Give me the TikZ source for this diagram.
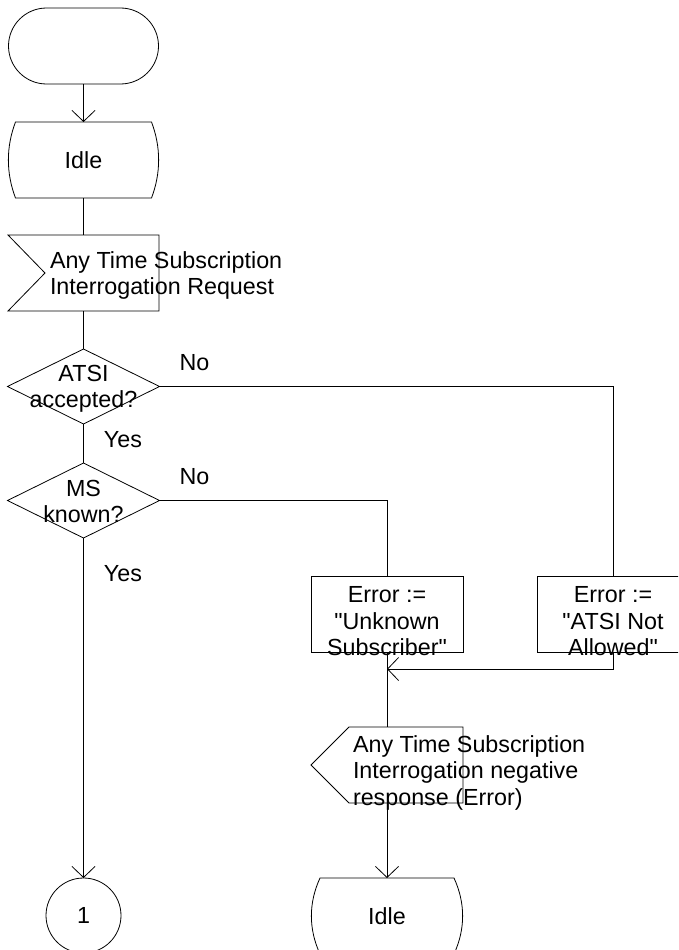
\documentclass[tikz,border=0pt]{standalone}
\usepackage{fontspec}
\setmainfont{Liberation Sans}[Ligatures=TeXOff]
\usetikzlibrary{arrows.meta}
\newcommand{\drawstatebox}[2]{%
  \draw ([xshift=#2]#1.north west) -- ([xshift=-#2]#1.north east)
    .. controls ([xshift=2.5pt,yshift=-25pt]#1.north east) and ([xshift=2.5pt,yshift=25pt]#1.south east) .. ([xshift=-#2]#1.south east)
    -- ([xshift=#2]#1.south west)
    .. controls ([xshift=-2.5pt,yshift=25pt]#1.south west) and ([xshift=-2.5pt,yshift=-25pt]#1.north west) .. cycle;}
\begin{document}
\begin{tikzpicture}[x=1pt,y=-1pt,line width=0.8pt,
  every node/.style={inner sep=0pt,outer sep=0pt},
  txt/.style={font=\fontsize{23.3}{26.5}\selectfont,align=center},
  ltxt/.style={font=\fontsize{23.3}{26.5}\selectfont,align=left,anchor=west},
  shp/.style={minimum width=152pt,minimum height=76pt},
  arr/.style={-{Straight Barb[length=11pt,width=23pt]}}]
\useasboundingbox (0,0) rectangle (678,950);
\clip (0,0) rectangle (678,950);

% start
\node[draw,rounded corners=38pt,minimum width=150pt,minimum height=76pt] (start) at (83.5,46) {};
% idle 1
\node[minimum width=150pt,minimum height=76pt] (idle1) at (83.5,160) {};
\drawstatebox{idle1}{7pt}
\node[txt] (idle1t) at (idle1) {Idle};
% input signal
\node[minimum width=151pt,minimum height=76pt] (sigin) at (83.5,273) {};
\draw (sigin.north west) -- (sigin.north east) -- (sigin.south east) -- (sigin.south west) -- ([xshift=37pt]sigin.west) -- cycle;
\node[ltxt] (sigint) at (50,275.5) {Any Time Subscription\\Interrogation Request};
% decision 1
\node[minimum width=152pt,minimum height=75pt] (d1) at (83.5,386.5) {};
\draw (d1.north) -- (d1.east) -- (d1.south) -- (d1.west) -- cycle;
\node[txt] (d1t) at (83.5,389) {ATSI\\accepted?};
% decision 2
\node[minimum width=152pt,minimum height=75pt] (d2) at (83.5,500.5) {};
\draw (d2.north) -- (d2.east) -- (d2.south) -- (d2.west) -- cycle;
\node[txt] (d2t) at (83.5,501.5) {MS\\known?};
% labels
\node[txt] (no1) at (194.5,363) {No};
\node[txt] (yes1) at (123,440) {Yes};
\node[txt] (no2) at (194.5,477) {No};
\node[txt] (yes2) at (123,574) {Yes};
% tasks
\node[draw,shp] (b1) at (387,614) {};
\node[txt] (b1t) at (387,621.5) {Error :=\\"Unknown\\Subscriber"};
\node[draw,shp] (b2) at (613,614) {};
\node[txt] (b2t) at (613,621.5) {Error :=\\"ATSI Not\\Allowed"};
% output signal
\node[shp] (sigout) at (387,765) {};
\draw ([xshift=38pt]sigout.north west) -- (sigout.north east) -- (sigout.south east) -- ([xshift=38pt]sigout.south west) -- (sigout.west) -- cycle;
\node[ltxt] (sigoutt) at (353,772.5) {Any Time Subscription\\Interrogation negative\\response (Error)};
% idle 2
\node[shp] (idle2) at (387,916) {};
\drawstatebox{idle2}{9pt}
\node[txt] (idle2t) at (idle2) {Idle};
% connector 1
\node[draw,circle,minimum size=75pt] (c1) at (83.5,915.5) {};
\node[txt] (c1t) at (c1) {1};

% connectors
\draw[arr] (start.south) -- (idle1.north);
\draw (idle1.south) -- (sigin.north);
\draw (sigin.south) -- (d1.north);
\draw (d1.east) -| (b2.north);
\draw (d1.south) -- (d2.north);
\draw (d2.east) -| (b1.north);
\draw[arr] (d2.south) -- (c1.north);
\draw[arr] (b2.south) |- ([yshift=-17pt]b1.south);
\draw (b1.south) -- (sigout.north);
\draw[arr] (sigout.south) -- (idle2.north);
\end{tikzpicture}
\end{document}
